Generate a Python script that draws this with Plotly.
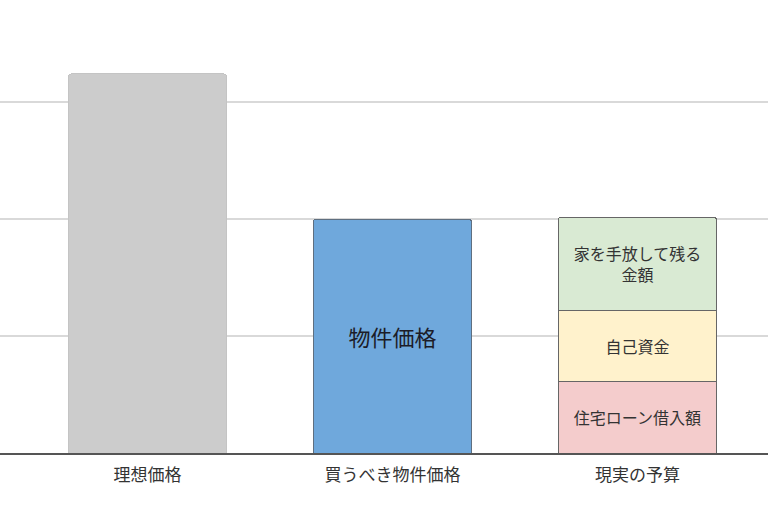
import plotly.graph_objects as go

categories = ["理想価格", "買うべき物件価格", "現実の予算"]

ideal_value = [3.24]
target_value = [2.0]
loan_value = [0.61]
own_funds_value = [0.61]
sale_value = [0.795]

FONT = "Noto Sans CJK JP, Noto Sans, sans-serif"
W = 0.645

fig = go.Figure()
fig.add_trace(go.Bar(
    x=[categories[0]], y=ideal_value, width=W,
    marker=dict(color="#cccccc", line=dict(color="#c4c4c4", width=1), cornerradius=3),
    hoverinfo="skip", showlegend=False,
))
fig.add_trace(go.Bar(
    x=[categories[1]], y=target_value, width=W,
    marker=dict(color="#6fa8dc", line=dict(color="#5f6f80", width=1)),
    text=["物件価格"], textposition="inside", insidetextanchor="middle",
    textfont=dict(family=FONT, size=22, color="#1c1c28"),
    hoverinfo="skip", showlegend=False,
))
fig.add_trace(go.Bar(
    x=[categories[2]], y=loan_value, width=W,
    marker=dict(color="#f4cccc", line=dict(color="#666666", width=1)),
    text=["住宅ローン借入額"], textposition="inside", insidetextanchor="middle",
    textfont=dict(family=FONT, size=16, color="#333333"),
    hoverinfo="skip", showlegend=False,
))
fig.add_trace(go.Bar(
    x=[categories[2]], y=own_funds_value, width=W,
    marker=dict(color="#fff2cc", line=dict(color="#666666", width=1)),
    text=["自己資金"], textposition="inside", insidetextanchor="middle",
    textfont=dict(family=FONT, size=16, color="#333333"),
    hoverinfo="skip", showlegend=False,
))
fig.add_trace(go.Bar(
    x=[categories[2]], y=sale_value, width=W,
    marker=dict(color="#d9ead3", line=dict(color="#666666", width=1)),
    text=["家を手放して残る<br>金額"], textposition="inside", insidetextanchor="middle",
    textfont=dict(family=FONT, size=16, color="#333333"),
    hoverinfo="skip", showlegend=False,
))

fig.update_layout(
    width=768, height=505,
    margin=dict(l=0, r=0, t=0, b=52),
    barmode="stack",
    plot_bgcolor="white", paper_bgcolor="white",
    font=dict(family=FONT, color="#333333"),
    uniformtext=dict(mode=False),
    xaxis=dict(
        range=[-0.602, 2.533], showgrid=False, zeroline=False,
        showline=True, linecolor="#555555", linewidth=1.5,
        ticks="", ticklabelstandoff=6,
        tickfont=dict(family=FONT, size=17, color="#333333"),
        fixedrange=True,
    ),
    yaxis=dict(
        range=[0, 3.872], dtick=1, showgrid=True, gridcolor="#d9d9d9", gridwidth=2,
        zeroline=False, showticklabels=False, ticks="", fixedrange=True,
    ),
)

fig.write_html(
    "out.html",
    config={"displayModeBar": False, "staticPlot": True},
    post_script="document.body.style.margin='0';document.body.style.overflow='hidden';",
)
